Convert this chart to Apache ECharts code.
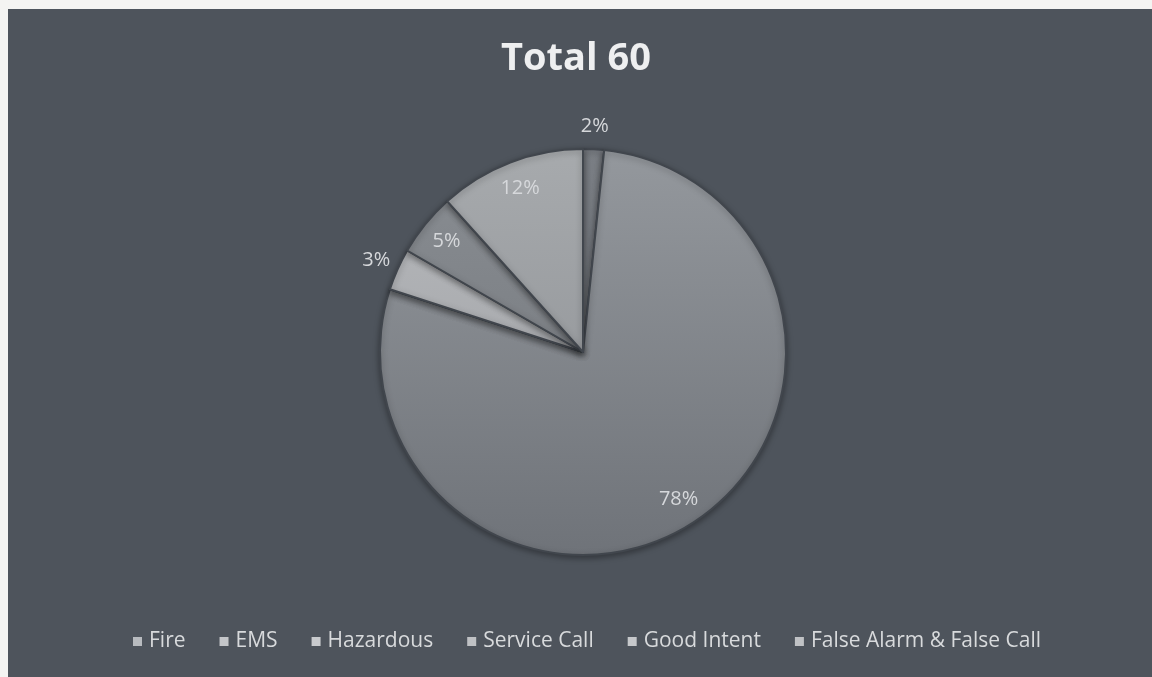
<!DOCTYPE html>
<html>
<head>
<meta charset="utf-8">
<script src="https://cdn.jsdelivr.net/npm/echarts@6/dist/echarts.min.js"></script>
<style>
html,body{margin:0;padding:0;background:#f4f4f2;width:1152px;height:677px;overflow:hidden;}
#bg{position:absolute;left:8px;top:9px;right:0;bottom:0;background:#4e545c;}
#chart{position:absolute;left:0;top:0;width:1152px;height:677px;}
</style>
</head>
<body>
<div id="bg"></div>
<div id="chart"></div>
<script>
const titleText = 'Total 60';
const categories = ['Fire', 'EMS', 'Hazardous', 'Service Call', 'Good Intent', 'False Alarm & False Call'];
const counts = [1, 47, 0, 2, 3, 7];
const sliceTopColors = ['#7a7e84', '#94989d', '#a4a7ab', '#b8babd', '#8a8e93', '#a7aaad'];
const sliceBottomColors = ['#63676d', '#6f7379', '#808387', '#9a9ca0', '#6e7277', '#8a8d91'];
const legendColors = ['#b8bbbf', '#c4c6c9', '#c9cbce', '#bfc1c4', '#c6c8cb', '#c0c2c5'];
const outsideLabels = ['Fire', 'Service Call'];

const total = counts.reduce((a, b) => a + b, 0);
const fmt = p => Math.round(p.value / total * 100) + '%';
const R = 203;
const center = [583, 352];

const mainData = categories.map((c, i) => ({
  name: c, value: counts[i],
  itemStyle: {
    color: {
      type: 'linear', x: 0, y: center[1] - R, x2: 0, y2: center[1] + R, global: true,
      colorStops: [{offset: 0, color: sliceTopColors[i]}, {offset: 1, color: sliceBottomColors[i]}]
    }
  }
}));
const innerLabelData = categories.map((c, i) => ({
  name: c, value: counts[i],
  label: {show: counts[i] > 0 && outsideLabels.indexOf(c) < 0}
}));
const outerLabelData = categories.map((c, i) => ({
  name: c, value: counts[i],
  label: {show: counts[i] > 0 && outsideLabels.indexOf(c) >= 0}
}));
const labelStyle = {position: 'inside', formatter: fmt, color: '#d6d8db', fontSize: 20, fontFamily: 'Open Sans, sans-serif'};

const chart = echarts.init(document.getElementById('chart'));
chart.setOption({
  backgroundColor: 'transparent',
  animation: false,
  title: {
    text: titleText, left: 'center', top: 35,
    textStyle: {color: '#eeeff0', fontSize: 38, fontWeight: 'bold', fontFamily: 'Open Sans, sans-serif'}
  },
  legend: {
    data: categories.map((c, i) => ({name: c, itemStyle: {color: legendColors[i], borderWidth: 0, shadowBlur: 0}})),
    bottom: 20, left: 128,
    itemWidth: 9, itemHeight: 9, itemGap: 34, icon: 'rect',
    textStyle: {color: '#d8dadc', fontSize: 21, fontFamily: 'Open Sans, sans-serif', padding: [0, 0, 0, 2]}
  },
  series: [
    {
      type: 'pie', radius: [0, R], center: center, startAngle: 90, clockwise: true,
      minAngle: 0, avoidLabelOverlap: false, stillShowZeroSum: true,
      label: {show: false}, labelLine: {show: false},
      itemStyle: {borderColor: '#41464d', borderWidth: 2, shadowBlur: 6, shadowColor: 'rgba(0,0,0,0.35)', shadowOffsetY: 2},
      emphasis: {disabled: true},
      data: mainData
    },
    {
      type: 'pie', radius: [0, R * 1.7], center: center, startAngle: 90, clockwise: true,
      silent: true, avoidLabelOverlap: false,
      itemStyle: {color: 'transparent', borderWidth: 0},
      label: labelStyle, labelLine: {show: false},
      emphasis: {disabled: true},
      data: innerLabelData
    },
    {
      type: 'pie', radius: [0, R * 2.2], center: center, startAngle: 90, clockwise: true,
      silent: true, avoidLabelOverlap: false,
      itemStyle: {color: 'transparent', borderWidth: 0},
      label: labelStyle, labelLine: {show: false},
      emphasis: {disabled: true},
      data: outerLabelData
    }
  ]
});
</script>
</body>
</html>
